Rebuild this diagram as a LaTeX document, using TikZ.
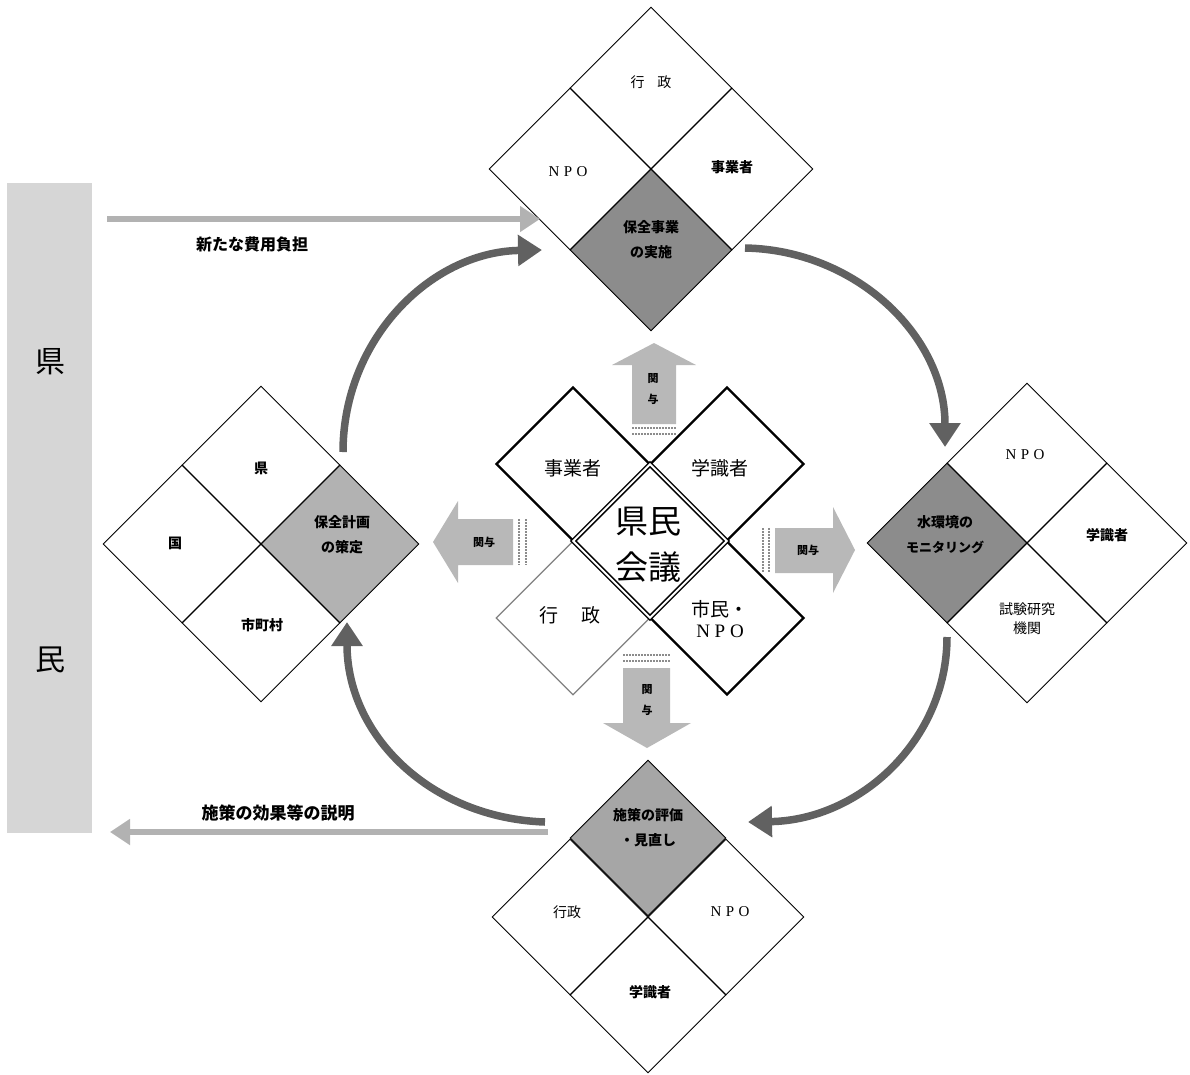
\documentclass[tikz,border=0pt]{standalone}
\usepackage{fontspec}
\setmainfont{Liberation Serif}
\newfontfamily\jp{Noto Sans CJK JP}
\usetikzlibrary{shapes.geometric,arrows.meta}
\tikzset{
  cell/.style={diamond, aspect=1, draw=black, line width=0.9pt, inner sep=0pt, minimum width=#1, minimum height=#1},
  thickcell/.style={cell=#1, line width=2.3pt},
  graycell/.style={cell=#1, draw=black!50, line width=1.3pt},
  centercell/.style={cell=#1, double, double distance=2pt, line width=1.5pt},
  txt/.style={font=\jp\fontsize{14}{19}\selectfont, align=center, inner sep=0pt},
  txtb/.style={font=\jp\bfseries\fontsize{14}{19}\selectfont, align=center, inner sep=0pt},
  btxt/.style={font=\jp\bfseries\fontsize{14}{25}\selectfont, align=center, inner sep=0pt},
  npo/.style={font=\rmfamily\fontsize{15}{18}\selectfont, inner sep=0pt},
  midtxt/.style={font=\jp\fontsize{19}{21}\selectfont, align=center, inner sep=0pt},
  kantxt/.style={font=\jp\bfseries\fontsize{11}{21}\selectfont, align=center, inner sep=0pt},
  kan/.style={fill=black!28},
  stripe/.style={draw=black!45, line width=1.2pt, dash pattern=on 1.5pt off 1.5pt},
  curv/.style={line width=7.5pt, draw=black!62, -{Triangle[length=24pt,width=30pt]}},
  flat/.style={line width=6pt, draw=black!30, -{Triangle[length=20pt,width=25pt]}},
  sidetxt/.style={font=\jp\bfseries\fontsize{16}{19}\selectfont, inner sep=0pt}
}
\begin{document}
\begin{tikzpicture}[x=1pt,y=-1pt]
\useasboundingbox (0,0) rectangle (1190,1074);

% left bar
\node[fill=black!16, minimum width=85pt, minimum height=650pt, inner sep=0pt] (bar) at (49.5,508) {};
\node[font=\jp\fontsize{30}{30}\selectfont, inner sep=0pt] (barken) at (50,362) {県};
\node[font=\jp\fontsize{30}{30}\selectfont, inner sep=0pt] (barmin) at (50,660) {民};

% top group
\node[cell=162pt] (T1) at (651,88) {};
\node[cell=162pt] (T2) at (570,169) {};
\node[cell=162pt] (T3) at (732,169) {};
\node[cell=162pt, fill=black!45] (T4) at (651,250) {};
\node[txt] (T1t) at (651,82) {行\hspace{0.9em}政};
\node[npo] (T2t) at (568,172) {N\hspace{0.3em}P\hspace{0.3em}O};
\node[txtb] (T3t) at (732,167) {事業者};
\node[btxt] (T4t) at (651,240) {保全事業\\の実施};

% left group
\node[cell=158pt] (L1) at (261,465) {};
\node[cell=158pt] (L2) at (182,544) {};
\node[cell=158pt, fill=black!30] (L3) at (340,544) {};
\node[cell=158pt] (L4) at (261,623) {};
\node[txtb] (L1t) at (261,468) {県};
\node[txtb] (L2t) at (175,543) {国};
\node[btxt] (L3t) at (342,535) {保全計画\\の策定};
\node[txtb] (L4t) at (262,625) {市町村};

% right group
\node[cell=160pt] (R1) at (1027,463) {};
\node[cell=160pt, fill=black!45] (R2) at (947,543) {};
\node[cell=160pt] (R3) at (1107,543) {};
\node[cell=160pt] (R4) at (1027,623) {};
\node[npo] (R1t) at (1025,455) {N\hspace{0.3em}P\hspace{0.3em}O};
\node[btxt] (R2t) at (945,535) {水環境の\\{\fontsize{13}{25}\selectfont モニタリング}};
\node[txtb] (R3t) at (1107,535) {学識者};
\node[txt] (R4t) at (1027,619) {試験研究\\機関};

% bottom group
\node[cell=156pt, fill=black!35] (B1) at (648,838) {};
\node[cell=156pt] (B2) at (570,917) {};
\node[cell=156pt] (B3) at (726,917) {};
\node[cell=156pt] (B4) at (648,995) {};
\node[btxt] (B1t) at (648,828) {施策の評価\\・見直し};
\node[txt] (B2t) at (567,912) {行政};
\node[npo] (B3t) at (730,912) {N\hspace{0.3em}P\hspace{0.3em}O};
\node[txtb] (B4t) at (650,992) {学識者};

% center group
\node[thickcell=154pt] (C1) at (573,464) {};
\node[thickcell=154pt] (C2) at (727,464) {};
\node[graycell=154pt] (C3) at (573,618) {};
\node[thickcell=154pt] (C4) at (727,618) {};
\node[centercell=154pt] (C0) at (650,541) {};
\node[midtxt] (C1t) at (573,468) {事業者};
\node[midtxt] (C2t) at (720,468) {学識者};
\node[midtxt] (C3t) at (570,615) {行\hspace{1.2em}政};
\node[midtxt] (C4t) at (720,619) {市民・\\{\rmfamily N\hspace{0.25em}P\hspace{0.25em}O}};
\node[font=\jp\fontsize{33}{46}\selectfont, align=center, inner sep=0pt] (C0t) at (648,545) {県民\\会議};

% kanyo arrows
\fill[kan] (632,424) -- (632,365) -- (612,365) -- (654,343) -- (696,365) -- (676,365) -- (676,424) -- cycle;
\draw[stripe] (632,428) -- (676,428);
\draw[stripe] (632,434) -- (676,434);
\node[kantxt] (k1) at (653,389) {関\\与};

\fill[kan] (513,519) -- (458,519) -- (458,501) -- (433,542) -- (458,583) -- (458,565) -- (513,565) -- cycle;
\draw[stripe] (519,519) -- (519,565);
\draw[stripe] (526,519) -- (526,565);
\node[kantxt] (k2) at (484,542) {関与};

\fill[kan] (775,528) -- (833,528) -- (833,507) -- (855,550) -- (833,593) -- (833,573) -- (775,573) -- cycle;
\draw[stripe] (763,528) -- (763,573);
\draw[stripe] (769,528) -- (769,573);
\node[kantxt] (k3) at (808,550) {関与};

\fill[kan] (623,668) -- (623,723) -- (603,723) -- (647,748) -- (691,723) -- (670,723) -- (670,668) -- cycle;
\draw[stripe] (623,655) -- (670,655);
\draw[stripe] (623,661) -- (670,661);
\node[kantxt] (k4) at (647,700) {関\\与};

% cycle arrows
\coordinate (a1s) at (343,452); \coordinate (a1e) at (542,250);
\coordinate (a2s) at (745,248); \coordinate (a2e) at (945,447);
\coordinate (a3s) at (947,637); \coordinate (a3e) at (748,822);
\coordinate (a4s) at (545,822); \coordinate (a4e) at (347,622);
\draw[curv] (a1s) .. controls (343,340) and (430,252) .. (a1e);
\draw[curv] (a2s) .. controls (855,250) and (945,335) .. (a2e);
\draw[curv] (a3s) .. controls (947,740) and (860,820) .. (a3e);
\draw[curv] (a4s) .. controls (430,818) and (347,735) .. (a4e);

% flat arrows to/from the bar
\coordinate (h1s) at (107,219); \coordinate (h1e) at (540,219);
\coordinate (h2s) at (548,832); \coordinate (h2e) at (110,832);
\draw[flat] (h1s) -- (h1e);
\draw[flat] (h2s) -- (h2e);
\node[sidetxt] (h1t) at (252,244) {新たな費用負担};
\node[sidetxt, font=\jp\bfseries\fontsize{17}{19}\selectfont] (h2t) at (278,813) {施策の効果等の説明};
\end{tikzpicture}
\end{document}
